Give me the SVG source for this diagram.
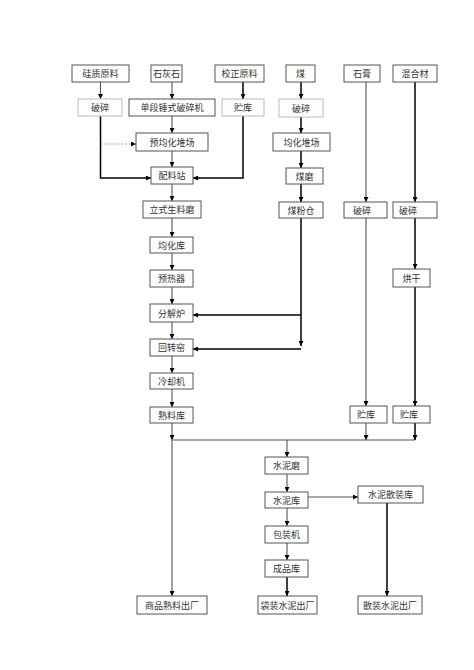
<svg xmlns="http://www.w3.org/2000/svg" width="474" height="670" viewBox="0 0 474 670">
<defs>
<marker id="ah" viewBox="0 0 10 10" refX="10" refY="5" markerWidth="5" markerHeight="5" orient="auto" markerUnits="userSpaceOnUse">
<path d="M0,0 L10,5 L0,10 z" fill="#000"/>
</marker>
<style>
.b rect{fill:#fff;stroke:#555;stroke-width:1}
.l rect{fill:#fff;stroke:#bbb;stroke-width:1}
text{font-family:"Noto Sans CJK SC","Noto Sans",sans-serif;font-size:9px;fill:#333;text-anchor:middle;dominant-baseline:central}
.c line,.c polyline{fill:none;stroke:#555;stroke-width:1.1;marker-end:url(#ah)}
.c .k{stroke:#000;stroke-width:1.5}
.c .n{marker-end:none}
.c .d{stroke:#aaa;stroke-dasharray:2,1.5}
</style>
</defs>
<rect width="474" height="670" fill="#fff"/>
<g class="c">
<line x1="100.5" y1="82" x2="100.5" y2="99"/>
<line x1="172" y1="82" x2="172" y2="99"/>
<line x1="243" y1="82" x2="243" y2="99" class="k"/>
<line x1="301" y1="82" x2="301" y2="99" class="k"/>
<line x1="366" y1="82" x2="366" y2="202"/>
<line x1="415" y1="82" x2="415" y2="202" class="k"/>
<line x1="172" y1="116" x2="172" y2="133"/>
<line x1="100.5" y1="144" x2="136" y2="144" class="d"/>
<polyline points="100.5,116 100.5,178 151,178" class="k"/>
<polyline points="243,116 243,178 193,178" class="k"/>
<line x1="172" y1="151" x2="172" y2="167"/>
<line x1="301" y1="117" x2="301" y2="133" class="k"/>
<line x1="301" y1="151" x2="301" y2="168" class="k"/>
<line x1="301" y1="184" x2="301" y2="202" class="k"/>
<line x1="172" y1="184" x2="172" y2="201"/>
<line x1="172" y1="218" x2="172" y2="237"/>
<line x1="172" y1="253" x2="172" y2="270"/>
<line x1="172" y1="287" x2="172" y2="304"/>
<line x1="172" y1="322" x2="172" y2="339"/>
<line x1="172" y1="356" x2="172" y2="373"/>
<line x1="172" y1="389" x2="172" y2="407"/>
<line x1="301" y1="218" x2="301" y2="346" class="k"/>
<line x1="301" y1="315" x2="193" y2="315" class="k"/>
<line x1="301" y1="349" x2="193" y2="349" class="k"/>
<line x1="415" y1="218" x2="415" y2="269" class="k"/>
<line x1="415" y1="287" x2="415" y2="406" class="k"/>
<line x1="366" y1="218" x2="366" y2="406"/>
<line x1="172" y1="423" x2="172" y2="440"/>
<line x1="172" y1="440" x2="172" y2="596"/>
<line x1="172" y1="440" x2="415" y2="440" class="n"/>
<line x1="366" y1="423" x2="366" y2="440"/>
<line x1="415" y1="423" x2="415" y2="440" class="k"/>
<line x1="287" y1="440" x2="287" y2="457"/>
<line x1="287" y1="474" x2="287" y2="492"/>
<line x1="308" y1="497" x2="358" y2="497"/>
<line x1="287" y1="508" x2="287" y2="526"/>
<line x1="287" y1="543" x2="287" y2="560"/>
<line x1="287" y1="577" x2="287" y2="596" class="k"/>
<line x1="387" y1="503" x2="387" y2="596" class="k"/>
</g>
<g id="n1" class="b"><rect x="72" y="65" width="57" height="17"/><text x="100.5" y="73.5">硅质原料</text></g>
<g id="n2" class="b"><rect x="151" y="65" width="31" height="17"/><text x="166.5" y="73.5">石灰石</text></g>
<g id="n3" class="b"><rect x="215" y="65" width="49" height="17"/><text x="239.5" y="73.5">校正原料</text></g>
<g id="n4" class="b"><rect x="286" y="65" width="29" height="17"/><text x="300.5" y="73.5">煤</text></g>
<g id="n5" class="b"><rect x="344" y="65" width="36" height="17"/><text x="362" y="73.5">石膏</text></g>
<g id="n6" class="b"><rect x="393" y="65" width="44" height="17"/><text x="415" y="73.5">混合材</text></g>
<g id="n7" class="l"><rect x="78" y="99" width="44" height="17"/><text x="100" y="107.5">破碎</text></g>
<g id="n8" class="b"><rect x="129" y="99" width="86" height="17"/><text x="172" y="107.5">单段锤式破碎机</text></g>
<g id="n9" class="l"><rect x="222" y="99" width="42" height="17"/><text x="243" y="107.5">贮库</text></g>
<g id="n10" class="l"><rect x="279" y="99" width="44" height="18"/><text x="301" y="108">破碎</text></g>
<g id="n11" class="b"><rect x="136" y="133" width="72" height="18"/><text x="172" y="142">预均化堆场</text></g>
<g id="n12" class="b"><rect x="273" y="133" width="57" height="18"/><text x="301.5" y="142">均化堆场</text></g>
<g id="n13" class="b"><rect x="151" y="167" width="42" height="17"/><text x="172" y="175.5">配料站</text></g>
<g id="n14" class="b"><rect x="286" y="168" width="37" height="16"/><text x="304.5" y="176">煤磨</text></g>
<g id="n15" class="b"><rect x="143" y="201" width="58" height="17"/><text x="172" y="209.5">立式生料磨</text></g>
<g id="n16" class="b"><rect x="279" y="202" width="44" height="16"/><text x="301" y="210">煤粉仓</text></g>
<g id="n17" class="b"><rect x="344" y="202" width="43" height="16"/><text x="362" y="210">破碎</text></g>
<g id="n18" class="b"><rect x="393" y="202" width="44" height="16"/><text x="408" y="210">破碎</text></g>
<g id="n19" class="b"><rect x="150" y="237" width="43" height="16"/><text x="171.5" y="245">均化库</text></g>
<g id="n20" class="b"><rect x="150" y="270" width="43" height="17"/><text x="171.5" y="278.5">预热器</text></g>
<g id="n21" class="b"><rect x="393" y="269" width="37" height="18"/><text x="411.5" y="278">烘干</text></g>
<g id="n22" class="b"><rect x="150" y="304" width="43" height="18"/><text x="171.5" y="313">分解炉</text></g>
<g id="n23" class="b"><rect x="150" y="339" width="43" height="17"/><text x="171.5" y="347.5">回转窑</text></g>
<g id="n24" class="b"><rect x="150" y="373" width="43" height="16"/><text x="171.5" y="381">冷却机</text></g>
<g id="n25" class="b"><rect x="150" y="407" width="43" height="16"/><text x="171.5" y="415">熟料库</text></g>
<g id="n26" class="b"><rect x="350" y="406" width="37" height="17"/><text x="366" y="414.5">贮库</text></g>
<g id="n27" class="b"><rect x="393" y="406" width="37" height="17"/><text x="409" y="414.5">贮库</text></g>
<g id="n28" class="b"><rect x="265" y="457" width="43" height="17"/><text x="286.5" y="465.5">水泥磨</text></g>
<g id="n29" class="b"><rect x="265" y="492" width="43" height="16"/><text x="286.5" y="500">水泥库</text></g>
<g id="n30" class="b"><rect x="358" y="486" width="65" height="17"/><text x="390.5" y="494.5">水泥散装库</text></g>
<g id="n31" class="b"><rect x="265" y="526" width="43" height="17"/><text x="286.5" y="534.5">包装机</text></g>
<g id="n32" class="b"><rect x="265" y="560" width="43" height="17"/><text x="286.5" y="568.5">成品库</text></g>
<g id="n33" class="b"><rect x="137" y="596" width="70" height="18"/><text x="172" y="605">商品熟料出厂</text></g>
<g id="n34" class="b"><rect x="258" y="596" width="59" height="18"/><text x="287.5" y="605">袋装水泥出厂</text></g>
<g id="n35" class="b"><rect x="358" y="596" width="64" height="18"/><text x="390" y="605">散装水泥出厂</text></g>
</svg>
